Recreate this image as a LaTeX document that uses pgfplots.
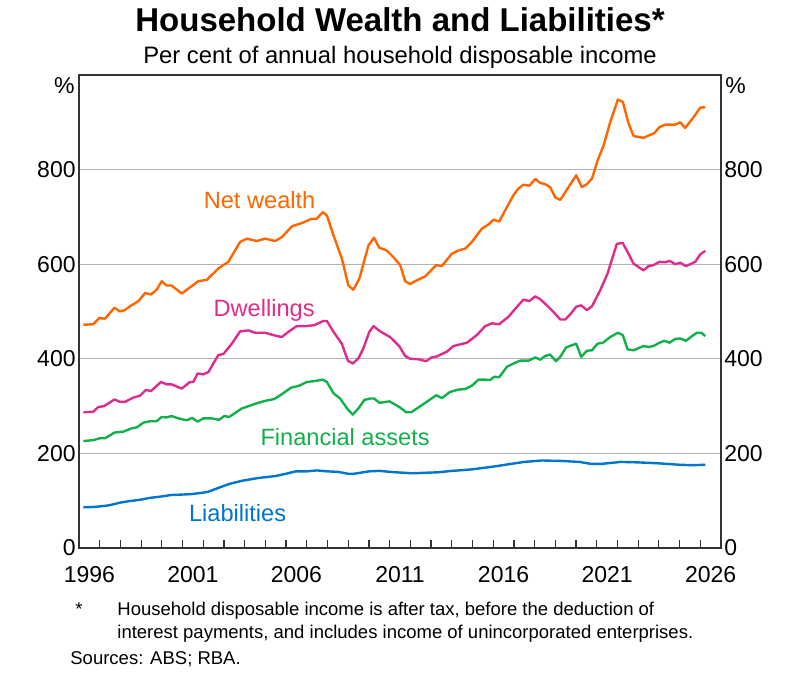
\documentclass[border=0pt]{standalone}
\usepackage{fontspec}
\setmainfont{Liberation Sans}
\usepackage{pgfplots}
\pgfplotsset{compat=1.18}

\definecolor{rbaorange}{RGB}{255,102,0}
\definecolor{rbapink}{RGB}{222,44,140}
\definecolor{rbagreen}{RGB}{18,176,75}
\definecolor{rbablue}{RGB}{0,117,207}

\pgfplotsset{
	rbabase/.style={
		at={(39.5pt,-274pt)},
		anchor=south west,
		width=321pt,
		height=236.5pt,
		scale only axis,
		xmin=1996,
		xmax=2027,
		ymin=0,
		ymax=1000,
		tick label style={font=\fontsize{11.5}{13}\selectfont},
	},
}

\begin{document}
\begin{tikzpicture}
	\useasboundingbox (0,0) rectangle (400pt,-336.5pt);

	% titles
	\node[anchor=base, inner sep=0, font=\fontsize{16.5}{18}\selectfont\bfseries] at (200pt,-15.8pt) {Household Wealth and Liabilities*};
	\node[anchor=base, inner sep=0, font=\fontsize{11.9}{14}\selectfont] at (200pt,-31.8pt) {Per cent of annual household disposable income};

	% grid, left scale and year labels (centred on each year)
	\begin{axis}
	[
		rbabase,
		axis line style={draw=none},
		xtick={1996.5,2001.5,...,2026.5},
		xticklabels={1996,2001,2006,2011,2016,2021,2026},
		ytick={0,200,...,800},
		yticklabels={0,200,400,600,800},
		major tick length=0pt,
		ymajorgrids=true,
		grid style={color=black!30, line width=0.6pt},
		xticklabel style={anchor=base, yshift=-17.5pt},
		yticklabel style={anchor=east, inner sep=1.5pt},
	]
		\addplot[draw=none] coordinates {(2000,0)};
	\end{axis}

	% right-hand scale
	\begin{axis}
	[
		rbabase,
		axis x line=none,
		axis y line*=right,
		axis line style={draw=none},
		ytick={0,200,...,800},
		yticklabels={0,200,400,600,800},
		major tick length=0pt,
		yticklabel style={anchor=west, inner sep=1.5pt},
	]
		\addplot[draw=none] coordinates {(2000,0)};
	\end{axis}

	% data, frame and yearly ticks
	\begin{axis}
	[
		rbabase,
		xtick=\empty,
		ytick=\empty,
		axis line style={color=black!80, line width=0.7pt},
		every axis plot/.append style={line width=1.2pt, line join=round},
		clip=false,
	]
		% yearly ticks along the bottom (about 4pt high)
		\addplot[ycomb, mark=none, color=black!80, line width=0.6pt] coordinates
		{
			(1997,17) (1998,17) (1999,17) (2000,17) (2001,17) (2002,17) (2003,17) (2004,17) (2005,17) (2006,17)
			(2007,17) (2008,17) (2009,17) (2010,17) (2011,17) (2012,17) (2013,17) (2014,17) (2015,17) (2016,17)
			(2017,17) (2018,17) (2019,17) (2020,17) (2021,17) (2022,17) (2023,17) (2024,17) (2025,17) (2026,17)
		};
		% Net wealth
		\addplot[color=rbaorange] coordinates
		{
			(1996.21,472) (1996.69,473) (1996.97,486) (1997.26,485) (1997.71,508) (1997.98,500)
			(1998.22,503) (1998.46,511) (1998.87,522) (1999.19,539) (1999.48,536) (1999.75,546)
			(1999.99,564) (2000.23,555) (2000.47,555) (2000.96,538) (2001.36,551) (2001.76,564)
			(2002.17,567) (2002.73,591) (2003.21,605) (2003.78,647) (2004.10,654) (2004.58,649)
			(2004.99,654) (2005.47,649) (2005.79,657) (2006.28,680) (2006.76,687) (2007.24,696)
			(2007.48,696) (2007.77,710) (2007.97,703) (2008.29,661) (2008.69,612) (2009.01,555)
			(2009.25,546) (2009.54,570) (2009.98,640) (2010.25,656) (2010.49,635) (2010.86,629)
			(2011.18,615) (2011.51,598) (2011.75,564) (2011.99,558) (2012.31,566) (2012.71,574)
			(2013.25,598) (2013.52,596) (2014.00,622) (2014.32,629) (2014.65,633) (2014.97,647)
			(2015.45,675) (2015.77,684) (2016.02,694) (2016.29,690) (2016.58,714) (2016.98,746)
			(2017.22,760) (2017.46,768) (2017.75,766) (2018.03,780) (2018.27,772) (2018.51,769)
			(2018.75,763) (2019.00,741) (2019.24,736) (2019.64,763) (2020.01,788) (2020.28,763)
			(2020.52,769) (2020.77,781) (2021.04,819) (2021.33,851) (2021.65,900) (2022.02,948)
			(2022.26,943) (2022.54,897) (2022.78,871) (2023.26,867) (2023.50,872) (2023.78,877)
			(2024.03,890) (2024.31,895) (2024.79,895) (2025.03,900) (2025.27,888) (2025.68,911)
			(2026.00,931) (2026.24,932)
		};
		% Dwellings
		\addplot[color=rbapink] coordinates
		{
			(1996.21,287) (1996.69,288) (1996.93,298) (1997.22,300) (1997.71,314) (1997.98,309)
			(1998.22,309) (1998.62,318) (1998.95,322) (1999.22,334) (1999.48,332) (1999.96,351)
			(2000.23,346) (2000.47,346) (2000.96,337) (2001.36,351) (2001.52,351) (2001.73,369)
			(2002.00,367) (2002.25,372) (2002.73,408) (2002.97,410) (2003.38,432) (2003.78,458)
			(2004.18,460) (2004.50,455) (2004.99,455) (2005.39,450) (2005.79,446) (2006.11,457)
			(2006.51,469) (2006.92,469) (2007.36,471) (2007.80,480) (2007.97,480) (2008.29,457)
			(2008.69,432) (2008.98,396) (2009.22,390) (2009.49,401) (2009.73,422) (2010.02,457)
			(2010.22,469) (2010.54,458) (2011.02,446) (2011.46,427) (2011.75,406) (2011.99,400)
			(2012.39,399) (2012.76,395) (2013.03,403) (2013.28,405) (2013.76,415) (2014.08,427)
			(2014.73,434) (2015.21,450) (2015.61,469) (2015.94,475) (2016.29,473) (2016.74,489)
			(2017.11,508) (2017.46,525) (2017.75,522) (2018.03,532) (2018.27,526) (2018.59,513)
			(2018.91,499) (2019.24,483) (2019.48,483) (2019.72,494) (2020.01,510) (2020.25,513)
			(2020.52,503) (2020.77,511) (2021.17,545) (2021.52,580) (2021.97,643) (2022.25,645)
			(2022.49,626) (2022.78,601) (2023.26,587) (2023.50,596) (2023.74,598) (2024.03,605)
			(2024.31,604) (2024.52,607) (2024.79,600) (2025.03,603) (2025.31,596) (2025.76,605)
			(2026.00,621) (2026.24,628)
		};
		% Financial assets
		\addplot[color=rbagreen] coordinates
		{
			(1996.21,226) (1996.69,228) (1997.01,232) (1997.26,232) (1997.71,244) (1998.14,246)
			(1998.55,253) (1998.79,255) (1999.11,265) (1999.43,268) (1999.75,268) (1999.99,277)
			(2000.23,276) (2000.47,279) (2000.80,274) (2001.20,270) (2001.47,275) (2001.73,267)
			(2002.00,274) (2002.41,274) (2002.76,271) (2003.02,279) (2003.25,277) (2003.86,295)
			(2004.26,301) (2004.58,306) (2004.99,311) (2005.43,315) (2005.79,325) (2006.24,339)
			(2006.63,343) (2007.00,351) (2007.40,353) (2007.77,356) (2007.97,351) (2008.29,327)
			(2008.61,316) (2008.98,293) (2009.22,282) (2009.49,295) (2009.78,313) (2010.06,316)
			(2010.25,316) (2010.51,307) (2010.99,310) (2011.47,298) (2011.80,287) (2012.04,287)
			(2012.39,297) (2012.79,309) (2013.25,323) (2013.52,317) (2013.92,330) (2014.32,335)
			(2014.65,336) (2014.97,343) (2015.29,356) (2015.61,356) (2015.85,355) (2016.05,362)
			(2016.29,361) (2016.66,383) (2016.98,390) (2017.30,396) (2017.71,396) (2018.03,403)
			(2018.27,398) (2018.51,406) (2018.75,409) (2019.03,395) (2019.24,404) (2019.52,424)
			(2020.01,432) (2020.25,404) (2020.52,417) (2020.77,418) (2021.04,432) (2021.30,434)
			(2021.65,446) (2022.02,455) (2022.26,450) (2022.49,420) (2022.78,418) (2023.26,427)
			(2023.50,425) (2023.74,427) (2024.03,434) (2024.26,438) (2024.52,434) (2024.79,442)
			(2025.03,443) (2025.31,438) (2025.60,448) (2025.84,455) (2026.05,455) (2026.24,448)
		};
		% Liabilities
		\addplot[color=rbablue] coordinates
		{
			(1996.21,86) (1996.80,87) (1997.42,90) (1998.00,96) (1998.42,99) (1998.95,102)
			(1999.43,106) (2000.00,109) (2000.44,112) (2001.00,113) (2001.44,114) (2002.00,117)
			(2002.25,119) (2002.85,129) (2003.30,136) (2003.86,142) (2004.66,148) (2005.47,152)
			(2006.00,157) (2006.47,162) (2007.00,162) (2007.48,164) (2008.00,162) (2008.49,161)
			(2009.00,157) (2009.29,157) (2010.00,162) (2010.50,163) (2011.30,160) (2012.11,158)
			(2013.32,160) (2014.00,163) (2014.93,166) (2016.00,172) (2016.74,177) (2017.50,182)
			(2018.35,185) (2019.30,184) (2020.16,182) (2020.70,178) (2021.27,178) (2022.17,182)
			(2023.00,181) (2023.98,179) (2025.00,176) (2025.60,175) (2026.24,176)
		};

		\node[anchor=base, font=\fontsize{11.8}{13}\selectfont, text=rbaorange] at (axis cs:2004.72,717) {Net wealth};
		\node[anchor=base, font=\fontsize{11.8}{13}\selectfont, text=rbapink] at (axis cs:2004.94,489) {Dwellings};
		\node[anchor=base, font=\fontsize{11.8}{13}\selectfont, text=rbagreen] at (axis cs:2008.85,216) {Financial assets};
		\node[anchor=base, font=\fontsize{11.8}{13}\selectfont, text=rbablue] at (axis cs:2003.66,57) {Liabilities};
	\end{axis}

	% unit labels
	\node[anchor=east, inner sep=0, font=\fontsize{11.5}{13}\selectfont] at (37.5pt,-43pt) {\%};
	\node[anchor=west, inner sep=0, font=\fontsize{11.5}{13}\selectfont] at (362.5pt,-43pt) {\%};

	% notes
	\node[anchor=base west, inner sep=0, font=\fontsize{9.25}{11.5}\selectfont] at (37.5pt,-308pt) {*};
	\node[anchor=base west, inner sep=0, font=\fontsize{9.25}{11.5}\selectfont] at (58.5pt,-308pt) {Household disposable income is after tax, before the deduction of};
	\node[anchor=base west, inner sep=0, font=\fontsize{9.25}{11.5}\selectfont] at (58.5pt,-319.5pt) {interest payments, and includes income of unincorporated enterprises.};
	\node[anchor=base west, inner sep=0, font=\fontsize{9.25}{11.5}\selectfont] at (35pt,-332.5pt) {Sources: ABS; RBA.};
\end{tikzpicture}
\end{document}
